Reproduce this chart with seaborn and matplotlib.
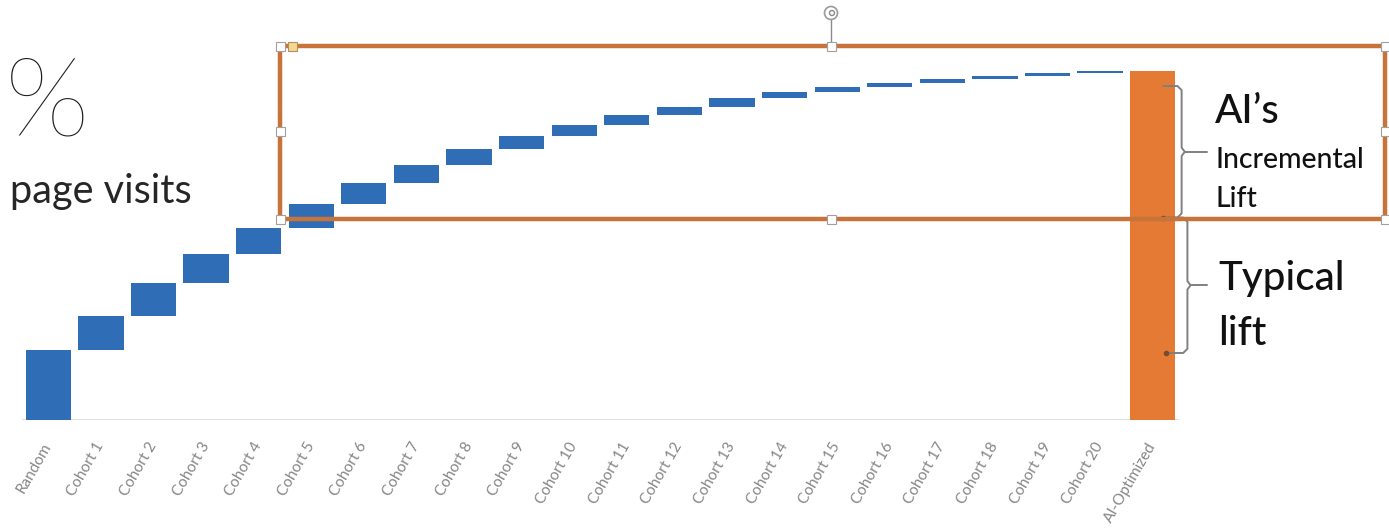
import numpy as np
import pandas as pd
import matplotlib
matplotlib.use("Agg")
import matplotlib.pyplot as plt
from matplotlib.patches import Rectangle, Ellipse
from matplotlib.lines import Line2D
import seaborn as sns

# ---- data -------------------------------------------------------------
stages = ["Random"] + [f"Cohort {i}" for i in range(1, 21)] + ["AI-Optimized"]
# lift contributed by each step (Random is the starting level)
step_lift = [20.0, 9.8, 9.5, 8.3, 7.4, 6.9, 6.0, 5.2, 4.6, 3.7, 3.1,
             2.9, 2.3, 2.6, 1.7, 1.4, 1.2, 1.1, 0.9, 0.8, 0.6]
ai_total = 100.0
typical_split = 58.0      # where the typical lift ends and AI's increment starts
brace_top = 95.7
brace_bottom = 19.2

BLUE = "#2F6EB6"
ORANGE = "#E47A33"
BOX = "#C8733A"

# ---- figure -----------------------------------------------------------
W, H = 1389, 531
sns.set_theme(style="white")
plt.rcParams["font.family"] = ["Lato", "DejaVu Sans"]

fig = plt.figure(figsize=(W / 100, H / 100), dpi=100)
fig.patch.set_facecolor("white")


def fx(x):
    return x / W


def fy(y):
    return 1 - y / H


ax = fig.add_axes([fx(22), fy(420), (1179 - 22) / W, 349 / H])

heights = step_lift + [ai_total]
bottoms = list(np.concatenate([[0.0], np.cumsum(step_lift)[:-1]])) + [0.0]
df = pd.DataFrame({"stage": stages, "lift": heights, "base": bottoms})
colors = [BLUE] * len(step_lift) + [ORANGE]

sns.barplot(data=df, x="stage", y="lift", hue="stage", palette=colors,
            order=stages, hue_order=stages, legend=False, width=0.86,
            saturation=1, ax=ax, linewidth=0)

# float the cohort bars on top of the running total
for p in ax.patches:
    idx = int(round(p.get_x() + p.get_width() / 2))
    p.set_y(df["base"].iloc[idx])

ax.set_xlim(-0.5, 21.5)
ax.set_ylim(0, 100)
for s in ax.spines.values():
    s.set_visible(False)
ax.set_yticks([])
ax.set_xlabel("")
ax.set_ylabel("")
ax.axhline(0, color="#d9d9d9", lw=1.2, zorder=0)

ax.set_xticks(range(len(stages)))
ax.set_xticklabels(stages, rotation=60, ha="right", va="center",
                   rotation_mode="anchor", fontsize=11, color="#868686")
ax.tick_params(axis="x", length=0, pad=17)

# ---- braces next to the AI bar --------------------------------------
def brace(x_v, y0, y1, tip_y, x_end, x_tip, color="#808080"):
    r = 0.08
    xs = [x_end, x_v - r, x_v, x_v, x_v + 0.06, x_v, x_v, x_v - r, x_end]
    ys = [y0, y0, y0 - 1.2, tip_y + 1.2, tip_y, tip_y - 1.2, y1 + 1.2, y1, y1]
    ax.plot(xs, ys, color=color, lw=1.4, clip_on=False, zorder=5,
            solid_joinstyle="round")
    ax.plot([x_v + 0.06, x_tip], [tip_y, tip_y], color=color, lw=1.4,
            clip_on=False, zorder=5)
    ax.plot([x_end], [y1], marker="o", ms=3, color="#7a4a2a",
            clip_on=False, zorder=6)


brace(21.55, brace_top, typical_split, (brace_top + typical_split) / 2,
      21.2, 22.03)
brace(21.66, typical_split, brace_bottom, (typical_split + brace_bottom) / 2,
      21.25, 22.03)

# ---- annotations ------------------------------------------------------
ink = "#111111"
fig.text(fx(1215), fy(123), "AI\u2019s", fontsize=29, color=ink,
         fontweight="medium")
fig.text(fx(1215), fy(168), "Incremental", fontsize=20.5, color=ink,
         fontweight="medium")
fig.text(fx(1215), fy(207), "Lift", fontsize=20.5, color=ink,
         fontweight="medium")
fig.text(fx(1218), fy(290), "Typical", fontsize=29, color=ink,
         fontweight="medium")
fig.text(fx(1218), fy(345), "lift", fontsize=29, color=ink,
         fontweight="medium")

fig.text(fx(5), fy(135), "%", fontsize=80, fontweight="light",
         color="#1e1e1e", ha="left", va="baseline")
fig.text(fx(10), fy(203), "page visits", fontsize=28.5, color="#262626",
         ha="left", va="baseline")

# ---- selection frame with handles ------------------------------------
x0, x1, y_top, y_bot = 280, 1385, 46, 219
fig.patches.append(Rectangle((fx(x0), fy(y_bot)), fx(x1) - fx(x0),
                             fy(y_top) - fy(y_bot), transform=fig.transFigure,
                             fill=False, edgecolor=BOX, lw=3.2, zorder=10,
                             joinstyle="round"))
fig.lines.append(Line2D([fx(831), fx(831)], [fy(20), fy(42)],
                        transform=fig.transFigure, color="#8a8a8a", lw=1,
                        zorder=11))
fig.patches.append(Ellipse((fx(831), fy(13)), 13 / W, 13 / H,
                           transform=fig.transFigure, facecolor="white",
                           edgecolor="#9a9a9a", lw=1.2, zorder=12))
fig.patches.append(Ellipse((fx(832), fy(13)), 5 / W, 5 / H,
                           transform=fig.transFigure, facecolor="none",
                           edgecolor="#8a8a8a", lw=1.0, zorder=13))

hs = 9
for hx, hy in [(280, 46), (831, 46), (1385, 46), (280, 131), (1385, 131),
               (280, 219), (831, 219), (1385, 219)]:
    fig.patches.append(Rectangle((fx(hx - hs / 2), fy(hy + hs / 2)), hs / W,
                                 hs / H, transform=fig.transFigure,
                                 facecolor="white", edgecolor="#a0a0a0",
                                 lw=0.8, zorder=12))
fig.patches.append(Rectangle((fx(292 - hs / 2), fy(46 + hs / 2)), hs / W,
                             hs / H, transform=fig.transFigure,
                             facecolor="#F6D78E", edgecolor="#b09060",
                             lw=0.8, zorder=12))

fig.savefig("out.png", dpi=100, facecolor="white")
